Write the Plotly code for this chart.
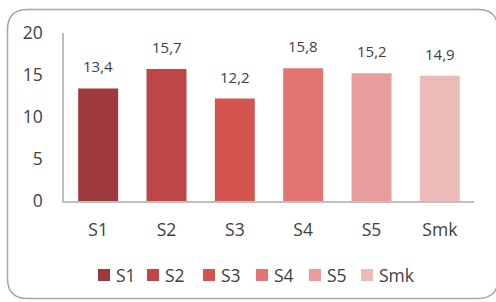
import plotly.graph_objects as go

categories = ["S1", "S2", "S3", "S4", "S5", "Smk"]
values = [13.4, 15.7, 12.2, 15.8, 15.2, 14.9]
labels = ["13,4", "15,7", "12,2", "15,8", "15,2", "14,9"]
colors = ["#9C3A3D", "#BE4648", "#D45550", "#E27572", "#E89C9B", "#EDBABA"]
y_ticks = [0, 5, 10, 15, 20]

W, H = 496, 302
L, R, T, B = 64, 22, 33, 101
PW, PH = W - L - R, H - T - B
FONT = "Open Sans"
TXT = "#404040"


def px(x):
    return (x - L) / PW


def py(y):
    return (H - B - y) / PH


fig = go.Figure()
for c, v, col in zip(categories, values, colors):
    fig.add_trace(go.Bar(x=[c], y=[v], name=c, marker=dict(color=col, line=dict(width=0)),
                         showlegend=False, hoverinfo="skip"))

annotations = []
for c, v, lab in zip(categories, values, labels):
    annotations.append(dict(x=c, y=v, xref="x", yref="y", text=lab, showarrow=False,
                            yanchor="bottom", yshift=10, font=dict(family=FONT, size=15, color=TXT)))

# manual legend
shapes = []
leg_x = [98, 147, 203, 256, 309, 361]
for c, col, lx in zip(categories, colors, leg_x):
    shapes.append(dict(type="rect", xref="paper", yref="paper", x0=px(lx), x1=px(lx + 12),
                       y0=py(281), y1=py(269), fillcolor=col, line=dict(width=0)))
    annotations.append(dict(x=px(lx + 16), y=py(275), xref="paper", yref="paper", text=c,
                            showarrow=False, xanchor="left", yanchor="middle",
                            font=dict(family=FONT, size=17.5, color=TXT)))

# rounded border
x0, y0, x1, y1, r = 7.5, 9.5, 498, 298.5, 20
pts = (f"M {px(x0)},{py(y0 + r)} Q {px(x0)},{py(y0)} {px(x0 + r)},{py(y0)} "
       f"L {px(x1 - r)},{py(y0)} Q {px(x1)},{py(y0)} {px(x1)},{py(y0 + r)} "
       f"L {px(x1)},{py(y1 - r)} Q {px(x1)},{py(y1)} {px(x1 - r)},{py(y1)} "
       f"L {px(x0 + r)},{py(y1)} Q {px(x0)},{py(y1)} {px(x0)},{py(y1 - r)} Z")
shapes.append(dict(type="path", xref="paper", yref="paper", path=pts,
                   line=dict(color="#A6A6A6", width=1.5), layer="below"))

fig.update_layout(
    width=W, height=H,
    margin=dict(l=L, r=R, t=T, b=B),
    paper_bgcolor="white", plot_bgcolor="white",
    barmode="overlay", bargap=0.415,
    showlegend=False,
    annotations=annotations, shapes=shapes,
    font=dict(family=FONT, color=TXT),
    xaxis=dict(type="category", categoryarray=categories, showgrid=False, zeroline=False,
               showline=True, linecolor="#BFBFBF", linewidth=1.5, ticks="",
               tickfont=dict(family=FONT, size=17.5, color=TXT), ticklabelstandoff=12),
    yaxis=dict(range=[0, 20], tickvals=y_ticks, showgrid=False, zeroline=False,
               showline=True, linecolor="#BFBFBF", linewidth=1.5, ticks="",
               tickfont=dict(family=FONT, size=17.5, color=TXT), ticklabelstandoff=16),
)

fig.write_html("out.html", config={"displayModeBar": False},
               post_script="document.body.style.margin='0';document.body.style.overflow='hidden';")
